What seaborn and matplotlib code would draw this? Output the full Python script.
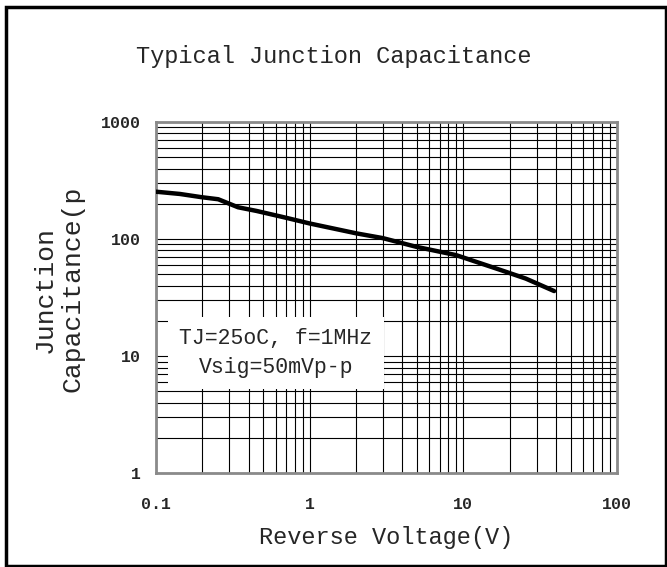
import matplotlib
matplotlib.use("Agg")
import matplotlib.pyplot as plt
import matplotlib.patches as mpatches
import pandas as pd
import seaborn as sns

# Curve (reverse voltage V, capacitance pF)
VOLTAGE = [0.1, 0.143, 0.198, 0.254, 0.342, 0.451, 0.689, 1.0, 2.01, 2.99,
           4.93, 8.97, 17.1, 25.5, 39.0]
CAPACITANCE = [254, 243, 228, 219, 187, 174, 153, 136, 112, 102,
               86, 73, 55, 46, 36]

X_TICKS = [0.1, 1, 10, 100]
X_TICK_LABELS = ["0.1", "1", "10", "100"]
Y_TICKS = [1, 10, 100, 1000]
Y_TICK_LABELS = ["1", "10", "100", "1000"]

FONT = ["Liberation Mono", "DejaVu Sans Mono"]


def main():
    sns.set_style("white")
    plt.rcParams["font.family"] = FONT

    df = pd.DataFrame({"v": VOLTAGE, "c": CAPACITANCE})

    fig = plt.figure(figsize=(6.67, 5.67), dpi=100)
    ax = fig.add_axes([0.2339, 0.1653, 0.6911, 0.6195])

    sns.lineplot(data=df, x="v", y="c", ax=ax, color="black", lw=3.2,
                 zorder=5)
    ax.set_xscale("log")
    ax.set_yscale("log")
    ax.set_xlim(0.1, 100)
    ax.set_ylim(1, 1000)

    # Dense log grid like the datasheet paper
    ax.grid(which="both", axis="both", color="black", lw=0.8)
    ax.set_axisbelow(True)
    for s in ax.spines.values():
        s.set_color("#8a8a8a")
        s.set_linewidth(2)

    ax.set_xticks(X_TICKS, X_TICK_LABELS, fontweight="bold")
    ax.set_yticks(Y_TICKS, Y_TICK_LABELS, fontweight="bold")
    ax.tick_params(which="both", length=0, labelsize=12)
    ax.tick_params(axis="x", pad=17)
    ax.tick_params(axis="y", pad=11)
    ax.set(xlabel="", ylabel="")

    ax.set_xlabel("Reverse Voltage(V)", fontsize=17, labelpad=10)
    fig.text(0.5, 0.90, "Typical Junction Capacitance", fontsize=17,
             ha="center", va="center")
    fig.text(0.088, 0.49, "Junction\nCapacitance(p", fontsize=19,
             rotation=90, ha="center", va="center", linespacing=1.2)

    ax.text(0.26, 0.342, "TJ=25oC, f=1MHz\nVsig=50mVp-p", fontsize=15.5,
            transform=ax.transAxes, ha="center", va="center",
            linespacing=1.5, zorder=6,
            bbox=dict(facecolor="white", edgecolor="none", pad=8))

    # Frame around the whole figure
    fig.patches.append(mpatches.Rectangle(
        (0.009, 0.002), 0.989, 0.985, transform=fig.transFigure,
        fill=False, edgecolor="black", lw=2.5))

    fig.savefig("out.png", dpi=100)


if __name__ == "__main__":
    main()
